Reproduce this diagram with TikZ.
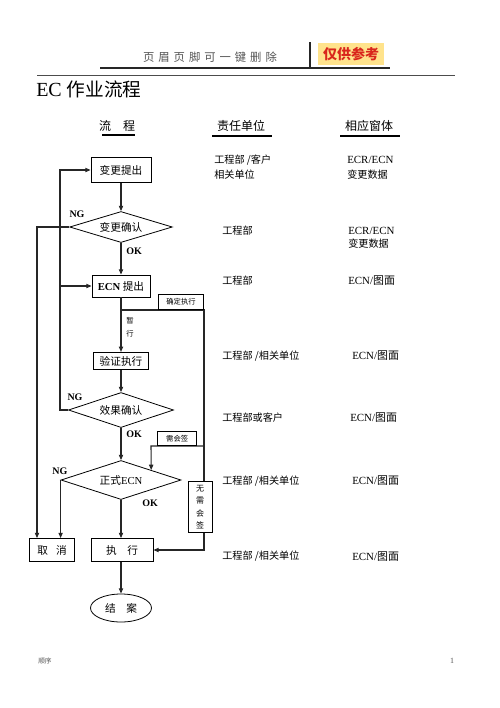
\documentclass[tikz,border=0pt]{standalone}
\usepackage{fontspec}
\setmainfont{Liberation Serif}
\newfontfamily\cjk{Noto Sans CJK SC}
\newfontfamily\cjksp[LetterSpace=35]{Noto Sans CJK SC}
\usetikzlibrary{arrows.meta,shapes.geometric,calc}
\newcommand\myfs[1]{\fontsize{#1}{#1}\selectfont}
\newcommand\zh[1]{{\cjk #1}}
\definecolor{hdrgray}{HTML}{555555}
\definecolor{hlyellow}{HTML}{FFE38C}
\definecolor{hlred}{HTML}{D9261C}
\begin{document}
\begin{tikzpicture}[x=0.75pt,y=-0.75pt,
  proc/.style={draw=black,line width=0.6pt,fill=white,inner sep=0pt,font=\cjk\myfs{8}},
  dec/.style={diamond,draw=black,line width=0.6pt,fill=white,inner sep=0pt,aspect=3,font=\cjk\myfs{8}},
  tag/.style={draw=black,line width=0.5pt,fill=white,inner sep=0pt,font=\cjk\myfs{5.5}},
  conn/.style={line width=0.8pt,draw=black!85},
  arr/.style={conn,-{Triangle[length=4pt,width=3.2pt]}},
  lbl/.style={font=\bfseries\myfs{7.5},inner sep=0pt},
  col/.style={anchor=west,inner sep=0pt,font=\cjk\myfs{7.6}},
  colr/.style={anchor=west,inner sep=0pt,font=\myfs{8.2}},
  hd/.style={inner sep=0pt,font=\cjk\myfs{9}}]
\useasboundingbox (0,0) rectangle (500,708);
\fill[white] (0,0) rectangle (500,708);

% ---------- page header ----------
\node[inner sep=0pt,text=hdrgray,font=\cjksp\myfs{8.5}] (hdr) at (210,57) {页眉页脚可一键删除};
\node[fill=hlyellow,inner sep=0pt,minimum width=49.5pt,minimum height=16.5pt,
      text=hlred,font=\cjk\bfseries\myfs{10.5}] (ref) at (351,54) {仅供参考};
\draw[line width=1.2pt,black!85] (100,68) -- (390,68);
\draw[line width=1pt,black!85] (310,42) -- (310,68);
\draw[line width=0.6pt,black!70] (37,75) -- (455,75);

% ---------- title ----------
\node[anchor=west,inner sep=0pt,font=\myfs{15}] (title) at (36,89) {EC \zh{\myfs{14}作业流程}};

% ---------- column headers ----------
\node[hd] (h1) at (117,126) {流\hspace{9pt}程};
\draw[line width=0.8pt] (102,135) -- (135,135);
\node[hd] (h2) at (241,126) {责任单位};
\draw[line width=0.8pt] (212,136) -- (272,136);
\node[hd] (h3) at (369,126) {相应窗体};
\draw[line width=0.8pt] (340,136) -- (400,136);

% ---------- flowchart nodes ----------
\node[proc,minimum width=45pt,minimum height=18.75pt] (b1) at (121,170) {变更提出};
\node[dec,minimum width=77pt,minimum height=23.25pt] (d1) at (121,227) {变更确认};
\node[proc,minimum width=43.5pt,minimum height=16.5pt] (b2) at (121,286) {{\rmfamily\bfseries ECN} 提出};
\node[proc,minimum width=41pt,minimum height=13pt] (b3) at (121,361) {验证执行};
\node[dec,minimum width=78.75pt,minimum height=26.25pt] (d2) at (121,410) {效果确认};
\node[dec,minimum width=90pt,minimum height=29.25pt] (d3) at (121,480) {正式{\rmfamily ECN}};
\node[proc,minimum width=33.75pt,minimum height=17.25pt] (c) at (52,550) {取\hspace{6pt}消};
\node[proc,minimum width=46.5pt,minimum height=17.25pt] (e) at (122,550) {执\hspace{8pt}行};
\node[proc,ellipse,minimum width=45.75pt,minimum height=21pt] (f) at (121,608) {结\hspace{8pt}案};

% ---------- helper coordinates ----------
\coordinate (k1) at (37,227);
\coordinate (k2) at (60,410);
\coordinate (k3) at (121,310);
\coordinate (k4) at (204,310);
\coordinate (k5) at (204,446);
\coordinate (k6) at (151,446);

% ---------- main flow ----------
\draw[arr] (b1.south) -- (d1.north);
\draw[arr] (d1.south) -- (b2.north);
\draw[arr] (b2.south) -- (b3.north);
\draw[arr] (b3.south) -- (d2.north);
\draw[arr] (d2.south) -- (d3.north);
\draw[arr] (d3.south) -- (e.north -| d3.south);
\draw[arr] (e.south -| f.north) -- (f.north);

% ---------- NG branches ----------
\draw[arr] (d1.west) -- (k1) -- (k1 |- c.north);
\draw[arr] (d3.west) -- (d3.west |- c.north);
\draw[arr] (d2.west) -- (k2) |- (b1.west);
\draw[arr] (k2 |- b2.west) -- (b2.west);

% ---------- side paths ----------
\draw[arr] (k3) -- (k4) |- (e.east);
\draw[arr] (k5) -- (k6) -- ($(d3.north)!0.5!(d3.east)$);

% ---------- tags on side paths ----------
\node[tag,anchor=south east,minimum width=34pt,minimum height=11.25pt] (s1) at (k4) {确定执行};
\node[tag,anchor=south east,minimum width=29.25pt,minimum height=10.5pt] (s2) at (197,446) {需会签};
\node[tag,minimum width=18pt,minimum height=38.25pt,align=center,font=\cjk\fontsize{6}{9.2}\selectfont] (s3) at (200,507)
  {无\\需\\会\\签};

% ---------- labels ----------
\node[lbl] (ng1) at (77,214) {NG};
\node[lbl,anchor=west] (ok1) at (126,251) {OK};
\node[inner sep=0pt,align=center,font=\cjk\fontsize{5.5}{9.5}\selectfont] (zx) at (130,327) {暂\\行};
\node[lbl] (ng2) at (75,397) {NG};
\node[lbl,anchor=west] (ok2) at (126,434) {OK};
\node[lbl] (ng3) at (60,471) {NG};
\node[lbl,anchor=west] (ok3) at (142,503) {OK};

% ---------- responsibility / form columns ----------
\node[col] (r1a) at (214,160) {工程部 /客户};
\node[col] (r1b) at (214,175) {相关单位};
\node[colr] (f1a) at (347,160) {ECR/ECN};
\node[col] (f1b) at (347,175) {变更数据};

\node[col] (r2) at (222,231) {工程部};
\node[colr] (f2a) at (348,231) {ECR/ECN};
\node[col] (f2b) at (348,244) {变更数据};

\node[col] (r3) at (222,281) {工程部};
\node[colr] (f3) at (348,281) {ECN/\zh{图面}};

\node[col] (r4) at (222,356) {工程部 /相关单位};
\node[colr] (f4) at (352,356) {ECN/\zh{图面}};

\node[col] (r5) at (222,418) {工程部或客户};
\node[colr] (f5) at (350,418) {ECN/\zh{图面}};

\node[col] (r6) at (222,481) {工程部 /相关单位};
\node[colr] (f6) at (352,481) {ECN/\zh{图面}};

\node[col] (r7) at (222,556) {工程部 /相关单位};
\node[colr] (f7) at (352,557) {ECN/\zh{图面}};

% ---------- footer ----------
\node[anchor=west,inner sep=0pt,text=hdrgray,font=\cjk\myfs{5}] (ft) at (38,661) {顺序};
\node[inner sep=0pt,text=hdrgray,font=\myfs{6}] (pg) at (452,661) {1};
\end{tikzpicture}
\end{document}
